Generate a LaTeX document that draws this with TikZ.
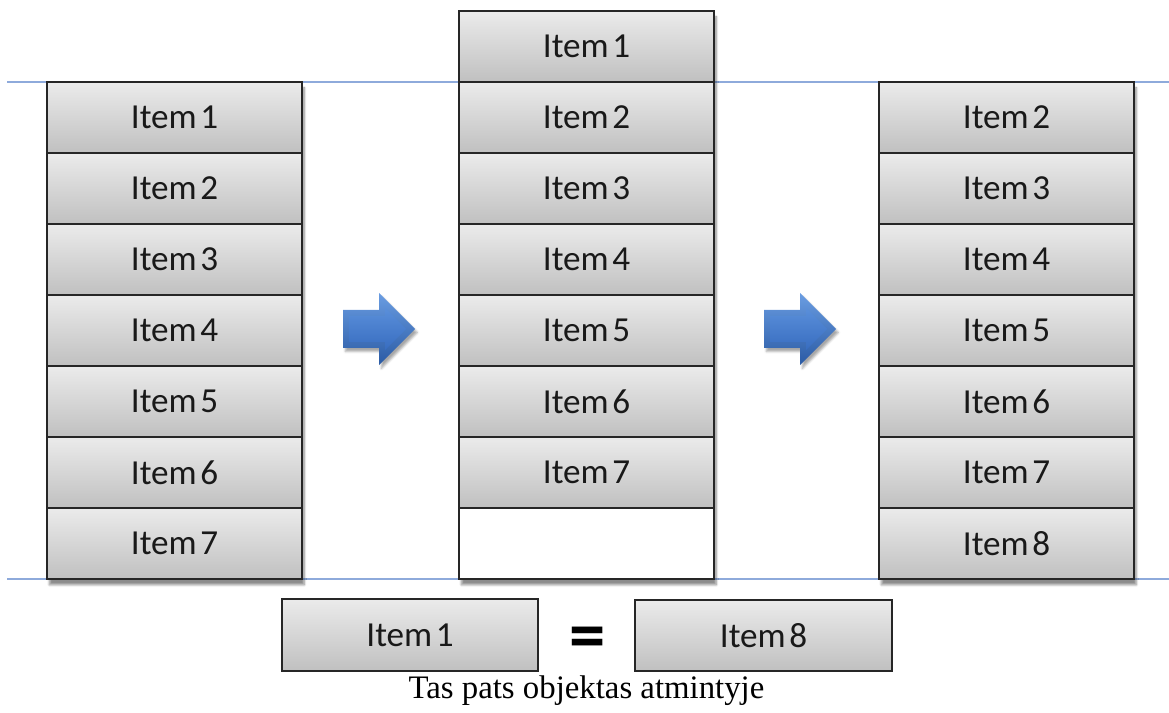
\documentclass[tikz,border=0pt]{standalone}
\usepackage{fontspec}
\setmainfont{Liberation Serif}
\newfontfamily\itemfont[WordSpace=0.45]{Carlito}
\usetikzlibrary{shadows.blur}
\definecolor{linecol}{HTML}{8EAADB}
\definecolor{celltop}{HTML}{EBEBEB}
\definecolor{cellbot}{HTML}{C0C0C0}
\definecolor{arrowtop}{HTML}{6A9DE2}
\definecolor{arrowbot}{HTML}{2A5AA4}
\definecolor{arrowin1}{HTML}{5A8FDA}
\definecolor{arrowin2}{HTML}{386DC0}
\tikzset{
 cell/.style={draw=black!85, line width=1pt, top color=celltop, bottom color=cellbot,
   minimum width=7.65cm, minimum height=2.13cm, inner sep=0pt,
   font=\itemfont\fontsize{30}{32}\selectfont, text=black!90},
 emptycell/.style={draw=black!85, line width=1pt, fill=white,
   minimum width=7.65cm, minimum height=2.13cm, inner sep=0pt},
 guide/.style={draw=linecol, line width=1.3pt},
 colshadow/.style={fill=white, draw=none,
   blur shadow={shadow xshift=2pt, shadow yshift=-5pt, shadow blur steps=8, shadow opacity=45}},
 bluearrow/.style={top color=arrowtop, bottom color=arrowbot, draw=none,
   blur shadow={shadow xshift=2pt, shadow yshift=-3pt, shadow opacity=35}},
 bluearrowin/.style={top color=arrowin1, bottom color=arrowin2, draw=none},
 eqsign/.style={font=\itemfont\bfseries\fontsize{62}{62}\selectfont, inner sep=0pt},
 caption/.style={font=\fontsize{28}{30}\selectfont, inner sep=0pt}
}
\begin{document}
\begin{tikzpicture}[x=0.03cm,y=-0.03cm]
\useasboundingbox (0,0) rectangle (1169,713);
% guide lines
\coordinate (gl1) at (7,82); \coordinate (gr1) at (1169,82);
\coordinate (gl2) at (7,579); \coordinate (gr2) at (1169,579);
\draw[guide] (gl1) -- (gr1);
\draw[guide] (gl2) -- (gr2);
% column shadows
\path[colshadow] (47,82) rectangle (302,579);
\path[colshadow] (459,11) rectangle (714,579);
\path[colshadow] (879,82) rectangle (1134,579);
% left column
\foreach \i in {1,...,7}
  \node[cell] (a\i) at (174.5,{46.5+71*\i}) {Item \i};
% middle column
\foreach \i in {1,...,7}
  \node[cell] (b\i) at (586.5,{-24.5+71*\i}) {Item \i};
\node[emptycell] (b8) at (586.5,543.5) {};
% right column
\foreach \i in {2,...,8}
  \node[cell] (c\i) at (1006.5,{-24.5+71*\i}) {Item \i};
% arrows
\foreach \dx in {0,421}{
  \begin{scope}[xshift=\dx*0.03cm]
  \path[bluearrow] (343,310) -- (379,310) -- (379,293) -- (415,329) -- (379,365) -- (379,348) -- (343,348) -- cycle;
  \path[bluearrowin] (349,316) -- (385,316) -- (385,308) -- (406,329) -- (385,350) -- (385,342) -- (349,342) -- cycle;
  \end{scope}
}
% bottom row
\node[cell, minimum width=7.68cm, minimum height=2.16cm] (k1) at (410,635) {Item 1};
\node[eqsign] (eq) at (587.5,643) {=};
\node[cell, minimum width=7.71cm, minimum height=2.13cm] (k8) at (763.5,635.5) {Item 8};
\node[caption] (cap) at (586.5,691) {Tas pats objektas atmintyje};
\end{tikzpicture}
\end{document}
